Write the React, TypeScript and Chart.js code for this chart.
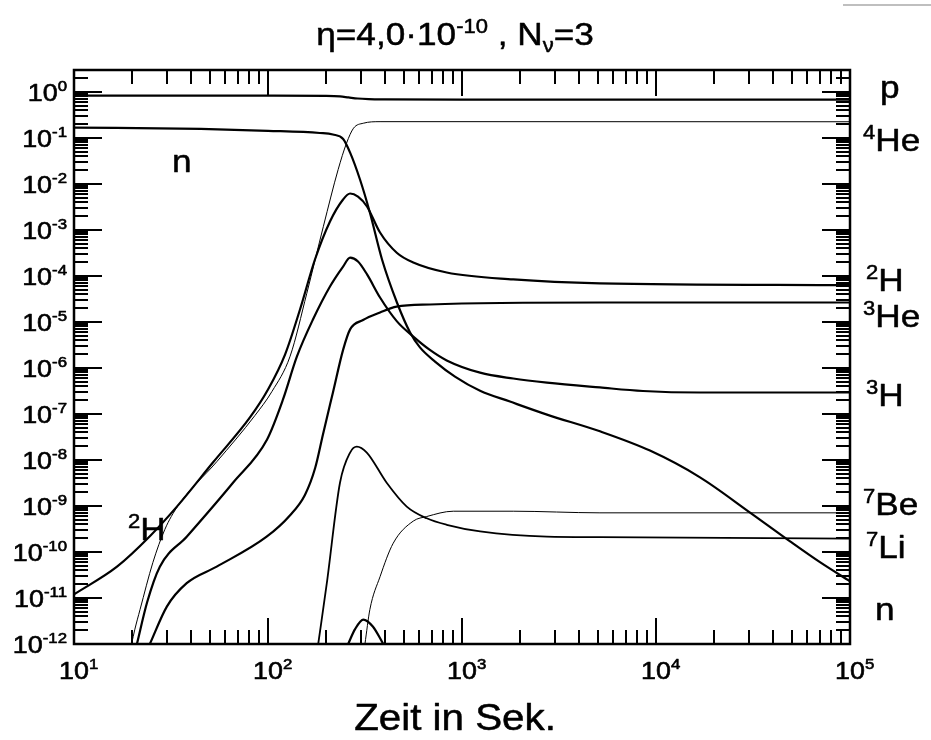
import React, { useEffect, useRef } from "react";
import { Chart, registerables } from "chart.js";

Chart.register(...registerables);

// ---- axis ranges & tick decades ----
const X_MIN = 10;
const X_MAX = 1e5;
const Y_MIN = 1e-12;
const Y_MAX = 3;
const xDecades = [1, 2, 3, 4, 5];
const yDecades = [0, -1, -2, -3, -4, -5, -6, -7, -8, -9, -10, -11, -12];

// ---- series (time in s, mass fraction) ----
const pT = [10, 100, 200, 235, 260, 290, 330, 400, 1000, 100000];
const pY = [0.83, 0.83, 0.82, 0.8, 0.76, 0.72, 0.7, 0.69, 0.68, 0.68];

const nT = [10, 45, 100, 185, 216, 244, 265, 298, 335, 387, 462, 540, 607, 726, 920, 1239, 1767, 2741, 5140, 9306, 16860, 30540, 49100, 70000, 100000];
const nY = [0.168, 0.157, 0.143, 0.128, 0.119, 0.095, 0.048, 0.0125, 2.4e-3, 2.28e-4, 2.65e-5, 5.9e-6, 2.8e-6, 1.38e-6, 6.5e-7, 3.2e-7, 1.86e-7, 9.7e-8, 4.2e-8, 1.6e-8, 4.2e-9, 7.2e-10, 1.7e-10, 6e-11, 2.3e-11];

const he4T = [19.8, 20.6, 21.9, 25.5, 29.4, 34.3, 54.6, 85.7, 104.9, 130, 158.5, 193, 230, 254, 276, 310, 378, 1000, 100000];
const he4Y = [1e-12, 2.1e-12, 5.6e-12, 5.9e-11, 3.1e-10, 1e-9, 9.3e-9, 9.3e-8, 3.1e-7, 1.8e-6, 4.2e-5, 1.2e-3, 0.0207, 0.077, 0.163, 0.209, 0.226, 0.226, 0.225];

const h2T = [10, 16.66, 24.6, 34, 52, 80.7, 100, 122.4, 146.2, 174.6, 208.7, 243.8, 265, 291, 323.8, 378, 461, 561, 834, 1837, 5140, 100000];
const h2Y = [1.2e-11, 4.8e-11, 2.2e-10, 9.8e-10, 8.8e-9, 8.4e-8, 3.4e-7, 1.96e-6, 1.87e-5, 2.28e-4, 1.53e-3, 4.6e-3, 6.2e-3, 5.3e-3, 3.24e-3, 8.8e-4, 3.2e-4, 1.96e-4, 1.19e-4, 8.4e-5, 6.9e-5, 6.3e-5];

const h3T = [21.1, 23.8, 27.7, 38.2, 66, 98.9, 119.5, 141, 170.5, 208.7, 243.8, 265, 291, 324, 378, 462, 561, 680, 834, 1239, 1837, 2741, 5140, 8570, 16860, 100000];
const h3Y = [1e-12, 8e-12, 4.8e-11, 2.17e-10, 3.2e-9, 2.8e-8, 2.07e-7, 1.78e-6, 1.13e-5, 5.9e-5, 1.6e-4, 2.5e-4, 2.06e-4, 1.08e-4, 3.4e-5, 1.03e-5, 4.8e-6, 2.5e-6, 1.46e-6, 7.9e-7, 5.9e-7, 4.8e-7, 3.77e-7, 3.16e-7, 2.93e-7, 2.93e-7];

const he3T = [24.6, 30.1, 38.1, 54.4, 98.4, 130, 155, 175, 192, 216, 244, 265, 309, 378, 460, 684, 5140, 100000];
const he3Y = [1e-12, 6.5e-12, 2.1e-11, 4.8e-11, 2.15e-10, 6.3e-10, 1.74e-9, 6.7e-9, 3.6e-8, 2.9e-7, 2.5e-6, 6.9e-6, 1.1e-5, 1.6e-5, 2.15e-5, 2.4e-5, 2.65e-5, 2.65e-5];

const li7T = [181.5, 201, 235, 265, 287, 323, 409, 519, 658, 834, 1240, 2735, 5140, 100000];
const li7Y = [1e-12, 2.1e-11, 3.2e-9, 1.45e-8, 1.95e-8, 1.45e-8, 3.2e-9, 9.7e-10, 5.4e-10, 3.9e-10, 2.8e-10, 2.15e-10, 2.1e-10, 1.95e-10];

const be7T = [316, 335, 378, 442, 561, 658, 902, 1837, 5140, 100000];
const be7Y = [1e-12, 5.6e-12, 2.9e-11, 1.55e-10, 4.7e-10, 5.9e-10, 7.7e-10, 7.7e-10, 7.1e-10, 7.1e-10];

const bumpT = [259, 281, 310, 347, 393];
const bumpY = [1e-12, 2.1e-12, 3.4e-12, 2.4e-12, 1e-12];

// ---- text ----
type Part = { t: string; s?: "sup" | "sub" };

const TITLE: Part[] = [{ t: "η=4,0·10" }, { t: "-10", s: "sup" }, { t: " , N" }, { t: "ν", s: "sub" }, { t: "=3" }];
const X_TITLE = "Zeit in Sek.";

const curveLabels: { parts: Part[]; x: number; y: number }[] = [
  { parts: [{ t: "p" }], x: 880, y: 98 },
  { parts: [{ t: "4", s: "sup" }, { t: "He" }], x: 863, y: 151 },
  { parts: [{ t: "2", s: "sup" }, { t: "H" }], x: 866, y: 291 },
  { parts: [{ t: "3", s: "sup" }, { t: "He" }], x: 863, y: 327 },
  { parts: [{ t: "3", s: "sup" }, { t: "H" }], x: 866, y: 406 },
  { parts: [{ t: "7", s: "sup" }, { t: "Be" }], x: 863, y: 515 },
  { parts: [{ t: "7", s: "sup" }, { t: "Li" }], x: 866, y: 558 },
  { parts: [{ t: "n" }], x: 875, y: 620 },
  { parts: [{ t: "n" }], x: 172, y: 172 },
  { parts: [{ t: "2", s: "sup" }, { t: "H" }], x: 128, y: 540 },
];

const FONT = '"Liberation Sans", Arimo, Arial, Helvetica, sans-serif';

function drawRich(
  ctx: CanvasRenderingContext2D,
  parts: Part[],
  x: number,
  y: number,
  size: number,
  small: number,
  k: number,
  align: "left" | "center" | "right",
  supRise: number,
  subDrop: number,
  bold: number
) {
  let w = 0;
  for (const p of parts) {
    ctx.font = `${p.s ? small : size}px ${FONT}`;
    w += ctx.measureText(p.t).width * k;
  }
  let cx = align === "left" ? x : align === "center" ? x - w / 2 : x - w;
  ctx.textAlign = "left";
  ctx.textBaseline = "alphabetic";
  ctx.lineJoin = "round";
  for (const p of parts) {
    ctx.font = `${p.s ? small : size}px ${FONT}`;
    const dy = p.s === "sup" ? -supRise : p.s === "sub" ? subDrop : 0;
    ctx.save();
    ctx.translate(cx, y + dy);
    ctx.scale(k, 1);
    ctx.fillText(p.t, 0, 0);
    if (bold > 0) {
      ctx.lineWidth = bold;
      ctx.strokeText(p.t, 0, 0);
    }
    ctx.restore();
    cx += ctx.measureText(p.t).width * k;
  }
}

const MAJOR = 26;
const MINOR = 14;

const decor = {
  id: "decor",
  beforeDraw(chart: any) {
    const ctx = chart.ctx;
    ctx.save();
    ctx.fillStyle = "#fff";
    ctx.fillRect(0, 0, chart.width, chart.height);
    ctx.restore();
  },
  afterDraw(chart: any) {
    const { ctx, chartArea: a, scales } = chart;
    const xs = scales.x;
    const ys = scales.y;
    ctx.save();
    ctx.strokeStyle = "#000";
    ctx.fillStyle = "#000";
    ctx.lineWidth = 2.5;
    ctx.strokeRect(a.left, a.top, a.right - a.left, a.bottom - a.top);

    ctx.lineWidth = 2;
    ctx.beginPath();
    for (const d of xDecades) {
      for (let m = 1; m <= 9; m++) {
        const v = m * Math.pow(10, d - 1);
        if (v < X_MIN * 0.999 || v > X_MAX * 1.001) continue;
        const px = Math.round(xs.getPixelForValue(v));
        const L = m === 1 ? MAJOR : MINOR;
        ctx.moveTo(px, a.bottom);
        ctx.lineTo(px, a.bottom - L);
        ctx.moveTo(px, a.top);
        ctx.lineTo(px, a.top + L);
      }
    }
    ctx.moveTo(Math.round(xs.getPixelForValue(X_MAX)), a.bottom);
    ctx.lineTo(Math.round(xs.getPixelForValue(X_MAX)), a.bottom - MAJOR);
    for (const d of yDecades) {
      for (let m = 1; m <= 9; m++) {
        const v = m * Math.pow(10, d);
        if (v < Y_MIN * 0.999 || v > Y_MAX * 1.001) continue;
        const py = Math.round(ys.getPixelForValue(v));
        const L = m === 1 ? MAJOR + 2 : MINOR;
        ctx.moveTo(a.left, py);
        ctx.lineTo(a.left + L, py);
        ctx.moveTo(a.right, py);
        ctx.lineTo(a.right - L, py);
      }
    }
    ctx.stroke();

    // faint scan edge line at top right
    ctx.strokeStyle = "#aaa";
    ctx.lineWidth = 1.5;
    ctx.beginPath();
    ctx.moveTo(843, 5);
    ctx.lineTo(931, 5);
    ctx.stroke();
    ctx.strokeStyle = "#000";

    // tick labels
    const TK = 1.12;
    for (const d of xDecades) {
      const px = xs.getPixelForValue(Math.pow(10, d));
      ctx.font = `24px ${FONT}`;
      const w10 = ctx.measureText("10").width * TK;
      drawRich(ctx, [{ t: "10" }, { t: String(d), s: "sup" }], px - w10 / 2, a.bottom + 35, 24, 15, TK, "left", 10, 0, 0.6);
    }
    for (const d of yDecades) {
      const py = ys.getPixelForValue(Math.pow(10, d));
      drawRich(ctx, [{ t: "10" }, { t: String(d), s: "sup" }], a.left - 7, py + 9, 24, 15, TK, "right", 10, 0, 0.6);
    }

    // title & axis title
    drawRich(ctx, TITLE, 455, 45, 32, 20, 1.1, "center", 12, 7, 0.5);
    drawRich(ctx, [{ t: X_TITLE }], 455, 730, 36, 20, 1.12, "center", 0, 0, 0.5);

    // curve labels
    for (const l of curveLabels) {
      drawRich(ctx, l.parts, l.x, l.y, 32, 20, 1.1, "left", 12, 0, 0.5);
    }
    ctx.restore();
  },
};

function series(ts: number[], ys: number[]) {
  return ts.map((t, i) => ({ x: t, y: ys[i] }));
}

export default function App() {
  const ref = useRef<HTMLCanvasElement | null>(null);
  useEffect(() => {
    if (!ref.current) return;
    const thick = 2.2;
    const thin = 1;
    const mk = (label: string, ts: number[], ys: number[], w: number) => ({
      label,
      data: series(ts, ys),
      borderColor: "#000",
      borderWidth: w,
      pointRadius: 0,
      fill: false,
      cubicInterpolationMode: "monotone" as const,
    });
    const chart = new Chart(ref.current, {
      type: "line",
      data: {
        datasets: [
          mk("p", pT, pY, thick),
          mk("n", nT, nY, thick),
          mk("4He", he4T, he4Y, thin),
          mk("2H", h2T, h2Y, thick),
          mk("3H", h3T, h3Y, thick),
          mk("3He", he3T, he3Y, thick),
          mk("7Li", li7T, li7Y, 1.8),
          mk("7Be", be7T, be7Y, thin),
          mk("", bumpT, bumpY, thick),
        ],
      },
      options: {
        responsive: false,
        animation: false,
        devicePixelRatio: 1,
        layout: { padding: { left: 74, right: 81, top: 70, bottom: 96 } },
        plugins: { legend: { display: false }, tooltip: { enabled: false }, title: { display: false } },
        scales: {
          x: { type: "logarithmic", min: X_MIN, max: X_MAX, display: false },
          y: { type: "logarithmic", min: Y_MIN, max: Y_MAX, display: false },
        },
      },
      plugins: [decor],
    });
    return () => chart.destroy();
  }, []);
  return (
    <div style={{ position: "fixed", left: 0, top: 0, width: 931, height: 740 }}>
      <canvas ref={ref} width={931} height={740} />
    </div>
  );
}
